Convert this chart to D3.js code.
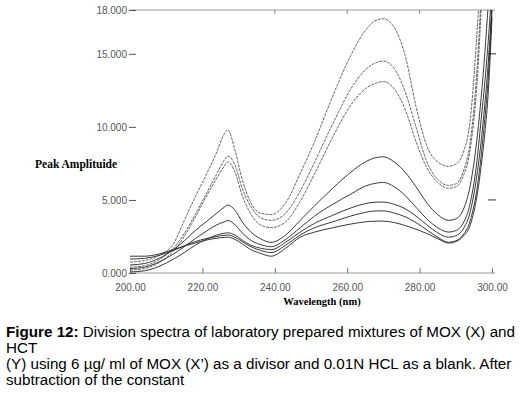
<!DOCTYPE html>
<html lang="en">
<head>
    <meta charset="UTF-8">
    <title>Division spectra</title>
    <script src="https://cdn.jsdelivr.net/npm/d3@7"></script>
    <style>
        body { margin: 0; background: #fff; }
    </style>
</head>
<body>
<script type="application/javascript">

    let w = 520, h = 397;

    // wavelengths (nm) shared by every curve
    let wavelengths = [200, 204, 208, 212, 215, 218, 221, 224, 226, 227, 229, 231, 233, 236, 239, 243, 247, 251, 256,
        261, 265, 268, 270, 273, 276, 279, 282, 285, 288, 290, 292, 294, 296, 297, 298, 299, 300];

    // peak amplitude of each mixture, one array per curve
    let mixA = [0.75, 0.85, 1.2, 2.0, 3.6, 5.2, 6.7, 8.3, 9.5, 9.8, 8.4, 6.4, 5.0, 4.1, 4.0, 4.8, 6.8, 9.0, 12.1,
        14.9, 16.6, 17.3, 17.4, 16.8, 14.9, 11.4, 8.7, 7.6, 7.3, 7.45, 8.2, 10.5, 17, 21, 26, 30, 34];
    let mixB = [0.4, 0.5, 0.9, 1.7, 2.7, 4.0, 5.4, 6.8, 7.7, 8.0, 7.4, 5.8, 4.7, 3.8, 3.6, 4.1, 5.6, 7.6, 10.2,
        12.6, 13.9, 14.4, 14.5, 14.0, 12.4, 10.0, 7.6, 6.4, 6.0, 6.1, 6.9, 9.0, 14.5, 19, 24, 28, 32];
    let mixC = [0.2, 0.3, 0.7, 1.5, 2.5, 3.8, 5.2, 6.5, 7.3, 7.6, 6.9, 5.3, 4.2, 3.3, 3.1, 3.5, 4.9, 6.8, 9.3,
        11.5, 12.6, 13.0, 13.1, 12.6, 11.2, 9.0, 7.2, 6.2, 5.8, 5.9, 6.6, 8.5, 13.5, 18, 23, 27, 31];
    let mixD = [0.55, 0.65, 1.0, 1.6, 2.2, 2.9, 3.5, 4.1, 4.5, 4.65, 4.3, 3.5, 2.9, 2.35, 2.1, 2.6, 3.6, 4.6, 5.8,
        6.9, 7.6, 7.9, 7.95, 7.6, 6.9, 5.9, 4.8, 4.0, 3.6, 3.7, 4.3, 6.0, 9.5, 12, 15, 18.5, 22];
    let mixE = [0.3, 0.4, 0.75, 1.3, 1.8, 2.35, 2.85, 3.3, 3.5, 3.6, 3.3, 2.75, 2.3, 1.95, 1.8, 2.3, 3.1, 3.9, 4.7,
        5.4, 5.95, 6.15, 6.2, 5.9, 5.3, 4.5, 3.7, 3.1, 2.8, 2.9, 3.4, 4.8, 8, 10.5, 13, 16, 19.5];
    let mixF = [0.07, 0.15, 0.45, 0.95, 1.4, 1.9, 2.3, 2.6, 2.72, 2.75, 2.6, 2.25, 1.95, 1.7, 1.6, 2.1, 2.8, 3.4, 3.95,
        4.45, 4.75, 4.85, 4.85, 4.7, 4.4, 3.9, 3.3, 2.75, 2.45, 2.55, 3.0, 4.2, 7, 9, 11.5, 14.5, 18.5];
    let mixG = [0.95, 1.0, 1.2, 1.55, 1.85, 2.15, 2.35, 2.5, 2.58, 2.6, 2.45, 2.15, 1.85, 1.55, 1.4, 1.9, 2.6, 3.1, 3.5,
        3.9, 4.15, 4.25, 4.25, 4.1, 3.85, 3.45, 2.95, 2.45, 2.1, 2.2, 2.6, 3.6, 6, 8, 10.5, 13.5, 18];
    let mixH = [1.15, 1.15, 1.3, 1.6, 1.85, 2.05, 2.25, 2.38, 2.44, 2.45, 2.3, 2.0, 1.65, 1.35, 1.15, 1.7, 2.45, 2.8, 3.1,
        3.35, 3.5, 3.55, 3.55, 3.45, 3.25, 3.0, 2.7, 2.35, 2.05, 2.15, 2.5, 3.3, 5.5, 7.3, 9.5, 12.5, 17.5];

    let curves = [mixA, mixB, mixC, mixD, mixE, mixF, mixG, mixH];

    // tick labels as printed on the plot
    let xTicks = [200, 220, 240, 260, 280, 300];
    let yTicks = [0, 5, 10, 15, 18];
    let rightTicks = [5, 15];

    //Set up scales
    let xScale = d3.scaleLinear()
        .domain([200, 300])
        .range([130, 492]);

    let yScale = d3.scaleLinear()
        .domain([0, 18])
        .range([273, 10]);

    //Create SVG element
    let svg = d3.select("body")
        .append("svg")
        .attr("width", w)
        .attr("height", h);

    svg.append("clipPath")
        .attr("id", "plotArea")
        .append("rect")
        .attr("x", 129)
        .attr("y", yScale(18))
        .attr("width", 368)
        .attr("height", yScale(0) - yScale(18));

    // frame lines: bottom axis and the 18.000 line at the top
    svg.append("line")
        .attr("x1", 130).attr("x2", 495)
        .attr("y1", yScale(0)).attr("y2", yScale(0))
        .attr("stroke", "#9a9a9a").attr("stroke-width", 1);
    svg.append("line")
        .attr("x1", 130).attr("x2", 495)
        .attr("y1", yScale(18)).attr("y2", yScale(18))
        .attr("stroke", "#9a9a9a").attr("stroke-width", 1);

    // bottom axis, ticks pointing up into the plot
    let xAxis = d3.axisBottom(xScale)
        .tickValues(xTicks)
        .tickSizeInner(-5)
        .tickSizeOuter(0)
        .tickPadding(11)
        .tickFormat(d3.format(".2f"));

    let gx = svg.append("g")
        .attr("transform", "translate(0," + yScale(0) + ")")
        .call(xAxis);
    gx.select(".domain").remove();
    gx.selectAll("line").attr("stroke", "#777");
    gx.selectAll("text")
        .attr("fill", "#555")
        .style("font-family", "Liberation Sans, Arial, sans-serif")
        .style("font-size", "10px");

    // small ticks on the top line
    svg.selectAll(".topTick")
        .data([240, 260, 280])
        .enter()
        .append("line")
        .attr("class", "topTick")
        .attr("x1", function(d) { return xScale(d); })
        .attr("x2", function(d) { return xScale(d); })
        .attr("y1", yScale(18))
        .attr("y2", yScale(18) + 4)
        .attr("stroke", "#888");

    // left axis: labels with a short dash, no spine
    let yAxis = d3.axisLeft(yScale)
        .tickValues(yTicks)
        .tickSizeInner(-7)
        .tickSizeOuter(0)
        .tickPadding(3)
        .tickFormat(d3.format(".3f"));

    let gy = svg.append("g")
        .attr("transform", "translate(129,0)")
        .call(yAxis);
    gy.select(".domain").remove();
    gy.selectAll("line").attr("stroke", "#555");
    gy.selectAll("text")
        .attr("fill", "#555")
        .attr("x", -2)
        .style("font-family", "Liberation Sans, Arial, sans-serif")
        .style("font-size", "10px");

    // right side dashes
    svg.selectAll(".rightTick")
        .data(rightTicks)
        .enter()
        .append("line")
        .attr("class", "rightTick")
        .attr("x1", 488)
        .attr("x2", 496)
        .attr("y1", function(d) { return yScale(d); })
        .attr("y2", function(d) { return yScale(d); })
        .attr("stroke", "#333");

    // spectra
    let line = d3.line()
        .x(function(d, i) { return xScale(wavelengths[i]); })
        .y(function(d) { return yScale(d); })
        .curve(d3.curveMonotoneX);

    svg.append("g")
        .attr("clip-path", "url(#plotArea)")
        .selectAll("path")
        .data(curves)
        .enter()
        .append("path")
        .attr("d", line)
        .attr("fill", "none")
        .attr("stroke", function(d, i) { return i < 3 ? "#555" : "#222"; })
        .attr("stroke-width", 0.9)
        .attr("stroke-dasharray", function(d, i) { return i < 3 ? "3,1" : null; });

    // axis titles
    svg.append("text")
        .attr("x", 35)
        .attr("y", 168)
        .style("font-family", "Liberation Serif, Times New Roman, serif")
        .style("font-weight", "bold")
        .style("font-size", "11.5px")
        .text("Peak Amplituide");

    svg.append("text")
        .attr("x", 322)
        .attr("y", 305)
        .attr("text-anchor", "middle")
        .style("font-family", "Liberation Serif, Times New Roman, serif")
        .style("font-weight", "bold")
        .style("font-size", "10.5px")
        .text("Wavelength (nm)");

    // figure caption
    let caption = [
        "Division spectra of laboratory prepared mixtures of MOX (X) and",
        "HCT",
        "(Y) using 6 µg/ ml of MOX (X’) as a divisor and 0.01N HCL as a blank. After",
        "subtraction of the constant"
    ];

    let cap = svg.append("g")
        .style("font-family", "Liberation Sans, Arial, sans-serif")
        .style("font-size", "15.2px")
        .attr("fill", "#000");

    let first = cap.append("text").attr("x", 6).attr("y", 337);
    first.append("tspan").style("font-weight", "bold").text("Figure 12:");
    first.append("tspan").text(" " + caption[0]);

    cap.selectAll(".capLine")
        .data(caption.slice(1))
        .enter()
        .append("text")
        .attr("class", "capLine")
        .attr("x", 6)
        .attr("y", function(d, i) { return 353 + i * 16.2; })
        .text(function(d) { return d; });

</script>
</body>
</html>
